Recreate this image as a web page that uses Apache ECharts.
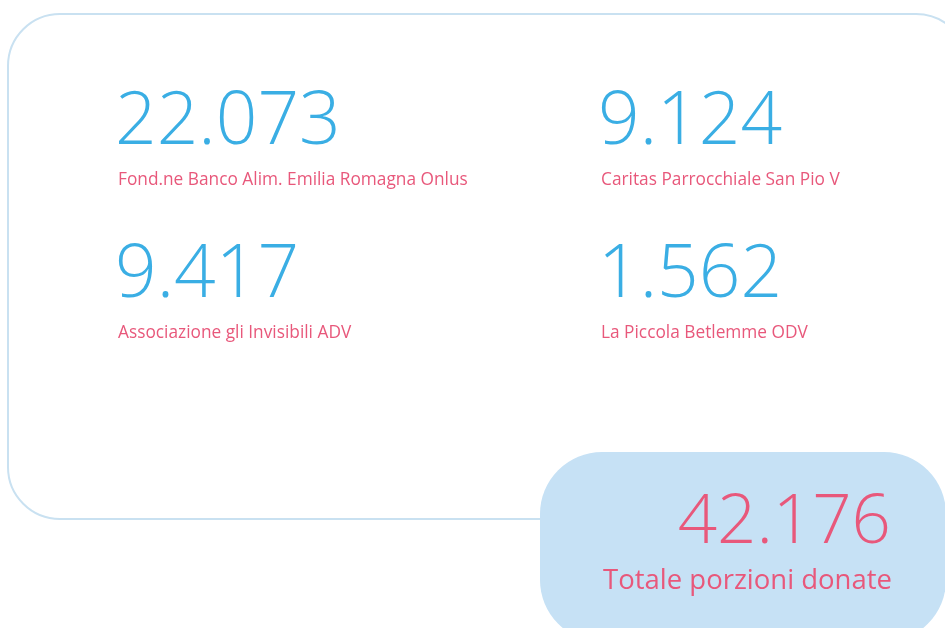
<!DOCTYPE html>
<html>
<head>
<meta charset="utf-8">
<script src="https://cdn.jsdelivr.net/npm/echarts@6/dist/echarts.min.js"></script>
<style>
html,body{margin:0;padding:0;background:#fff;}
#chart{width:945px;height:628px;}
</style>
</head>
<body>
<div id="chart"></div>
<script>
const names = [
  'Fond.ne Banco Alim. Emilia Romagna Onlus',
  'Caritas Parrocchiale San Pio V',
  'Associazione gli Invisibili ADV',
  'La Piccola Betlemme ODV'
];
const values = [22073, 9124, 9417, 1562];
const totalLabel = 'Totale porzioni donate';
const totalValue = 42176;

function fmt(v) {
  return String(v).replace(/\B(?=(\d{3})+(?!\d))/g, '.');
}

const FONT = '"Open Sans"';
const blue = '#3aaee4';
const pink = '#e8587b';

const cellX = [118, 601];
const numY = [123, 276];
const labY = [180, 333];

const elements = [];
elements.push({
  type: 'rect',
  shape: { x: 8, y: 14, width: 960, height: 505, r: 52 },
  style: { fill: '#fff', stroke: '#c9e1f1', lineWidth: 2 }
});
names.forEach((n, i) => {
  const col = i % 2, row = Math.floor(i / 2);
  elements.push({
    type: 'text', x: cellX[col] - 3, y: numY[row],
    style: { text: fmt(values[i]), fill: blue, font: '300 73px ' + FONT, textVerticalAlign: 'middle', textAlign: 'left' }
  });
  elements.push({
    type: 'text', x: cellX[col], y: labY[row],
    style: { text: n, fill: pink, font: '400 17.3px ' + FONT, textVerticalAlign: 'middle', textAlign: 'left' }
  });
});
elements.push({
  type: 'rect',
  shape: { x: 540, y: 452, width: 406, height: 190, r: 62 },
  style: { fill: '#c6e1f5' }
});
elements.push({
  type: 'text', x: 891, y: 523,
  style: { text: fmt(totalValue), fill: pink, font: '300 69px ' + FONT, textVerticalAlign: 'middle', textAlign: 'right' }
});
elements.push({
  type: 'text', x: 892, y: 581,
  style: { text: totalLabel, fill: pink, font: '400 27.5px ' + FONT, textVerticalAlign: 'middle', textAlign: 'right' }
});

const chart = echarts.init(document.getElementById('chart'));
chart.setOption({
  backgroundColor: '#ffffff',
  animation: false,
  graphic: { elements: elements }
});
</script>
</body>
</html>
